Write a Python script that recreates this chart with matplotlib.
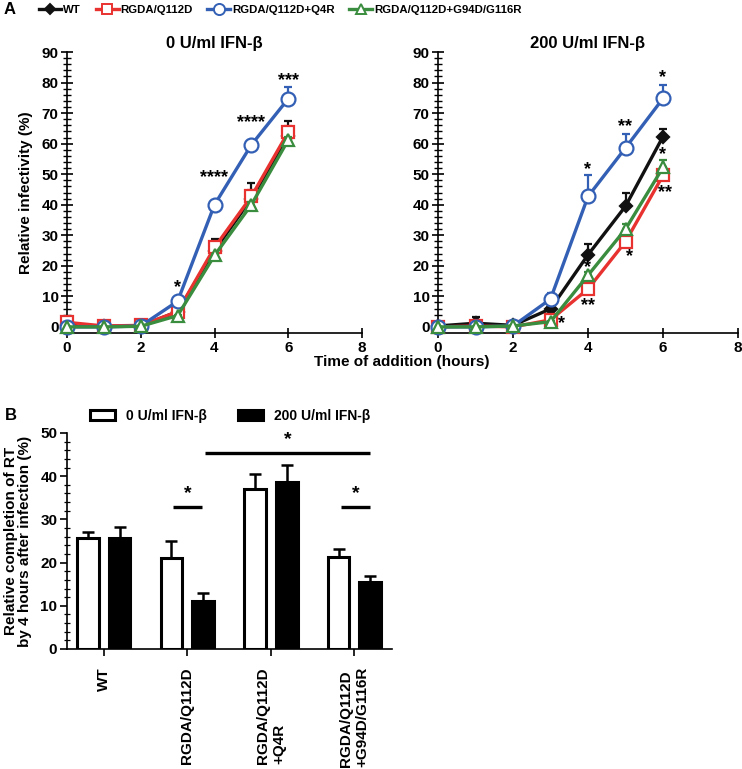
import matplotlib
matplotlib.use("Agg")
import matplotlib.pyplot as plt
import numpy as np
from matplotlib.lines import Line2D
from matplotlib.patches import Patch
from matplotlib.ticker import MultipleLocator

plt.rcParams['font.family'] = ['Liberation Sans', 'DejaVu Sans']
plt.rcParams['font.weight'] = 'bold'

# ---------------- Data: panel A ----------------
hours = [0, 1, 2, 3, 4, 5, 6]
series_names = ["WT", "RGDA/Q112D", "RGDA/Q112D+Q4R", "RGDA/Q112D+G94D/G116R"]

# 0 U/ml IFN-beta
wt_0 = [0.5, 0.2, 0.3, 5.0, 25.0, 42.0, 62.5]
wt_0_err = [2.5, 0, 0, 0.5, 3.7, 5.0, 5.0]
red_0 = [1.5, 0.3, 0.5, 5.0, 26.0, 42.7, 63.8]
red_0_err = [1.5, 0, 0, 0.5, 1.5, 2.0, 2.0]
blue_0 = [0.0, 0.0, 0.3, 8.4, 40.0, 59.6, 74.7]
blue_0_err = [0, 0, 0, 0.5, 0.5, 0.5, 4.0]
green_0 = [0.0, 0.0, 0.2, 3.7, 23.4, 40.0, 61.2]
green_0_err = [0, 0, 0, 0.3, 0.5, 1.0, 1.0]

# 200 U/ml IFN-beta
wt_200 = [0.3, 1.2, 0.5, 5.9, 23.6, 39.5, 62.3]
wt_200_err = [0.5, 2.0, 0.5, 0.5, 3.6, 4.5, 2.5]
red_200 = [0.0, 0.3, 0.0, 2.3, 12.4, 27.9, 49.6]
red_200_err = [0, 0.5, 0, 0.5, 1.0, 1.0, 1.0]
blue_200 = [0.0, 0.0, 0.3, 9.1, 42.7, 58.6, 74.8]
blue_200_err = [0, 0, 0, 2.0, 7.0, 4.7, 4.3]
green_200 = [0.0, 0.0, 0.3, 1.7, 16.9, 32.0, 52.2]
green_200_err = [0, 0, 0, 0.3, 1.0, 1.7, 2.6]

# significance labels (x, y, text)
stars_0 = [(3, 13.0, "*"), (4, 49.0, "****"), (5, 67.0, "****"), (6, 80.5, "***")]
stars_200 = [(4, 51.5, "*"), (5, 65.5, "**"), (6, 81.5, "*"), (6, 56.5, "*"),
             (6.05, 44.0, "**"), (5.12, 23.0, "*"), (4, 7.0, "**"), (3.3, 1.0, "*"),
             (4, 19.5, "*")]

# ---------------- Data: panel B ----------------
groups = ["WT", "RGDA/Q112D", "RGDA/Q112D\n+Q4R", "RGDA/Q112D\n+G94D/G116R"]
rt_0 = [25.7, 21.0, 37.0, 21.2]
rt_0_err = [1.3, 4.1, 3.4, 1.9]
rt_200 = [25.7, 11.2, 38.7, 15.6]
rt_200_err = [2.5, 1.7, 3.9, 1.2]
brackets = [(0.83, 1.17, 32.9, "*"), (2.84, 3.19, 32.9, "*"), (1.21, 3.19, 45.4, "*")]

colors = ['#111111', '#e8322f', '#3360b5', '#3a8c3e']
markers = ['D', 's', 'o', '^']
msizes = [6.5, 9, 10, 9]
mfcs = ['#111111', 'white', 'white', 'white']

W, H = 742, 769
fig = plt.figure(figsize=(W / 100, H / 100), dpi=100)

def ax_rect(x0, y0, x1, y1):
    return [x0 / W, 1 - y1 / H, (x1 - x0) / W, (y1 - y0) / H]

axL = fig.add_axes(ax_rect(67, 52, 362, 333))
axR = fig.add_axes(ax_rect(438, 52, 738, 333))

def draw_panel(ax, data, stars, title):
    for i, (y, e) in enumerate(data):
        z = 3 + i
        ax.errorbar(hours, y, yerr=[np.zeros(len(e)), e], fmt='none', ecolor=colors[i],
                    elinewidth=1.6, capsize=3, capthick=1.6, zorder=z)
        ax.plot(hours, y, color=colors[i], lw=2.4, marker=markers[i], ms=msizes[i],
                mfc=mfcs[i], mec=colors[i], mew=1.6, zorder=z + 0.5, clip_on=False)
    for (x, yv, t) in stars:
        ax.text(x, yv, t, ha='center', va='center', fontsize=13, fontweight='bold', zorder=10)
    ax.set_xlim(0, 8)
    ax.set_ylim(-2, 90)
    ax.set_xticks([0, 2, 4, 6, 8])
    ax.set_yticks(range(0, 91, 10))
    ax.yaxis.set_minor_locator(MultipleLocator(2))
    for s in ['top', 'right']:
        ax.spines[s].set_visible(False)
    for s in ['left', 'bottom']:
        ax.spines[s].set_linewidth(1.2)
    ax.spines['bottom'].set_bounds(0, 8)
    ax.tick_params(axis='y', which='major', direction='inout', length=8, width=1.2, labelsize=11, pad=2)
    ax.tick_params(axis='y', which='minor', direction='inout', length=6, width=1.0)
    ax.tick_params(axis='x', which='major', direction='inout', length=7, width=1.2, labelsize=11, pad=2)
    for lab in ax.get_xticklabels() + ax.get_yticklabels():
        lab.set_fontweight('bold')
    ax.set_title(title, fontsize=12, fontweight='bold', pad=3)

draw_panel(axL, [(wt_0, wt_0_err), (red_0, red_0_err), (blue_0, blue_0_err), (green_0, green_0_err)],
           stars_0, "0 U/ml IFN-β")
draw_panel(axR, [(wt_200, wt_200_err), (red_200, red_200_err), (blue_200, blue_200_err), (green_200, green_200_err)],
           stars_200, "200 U/ml IFN-β")
axL.set_ylabel("Relative infectivity (%)", fontsize=11, fontweight='bold', labelpad=6)
fig.text(402 / W, 1 - 362 / H, "Time of addition (hours)", ha='center', va='center',
         fontsize=11, fontweight='bold')

leg_handles = [Line2D([], [], color=colors[i], lw=2.4, marker=markers[i], ms=msizes[i] * 0.8,
                      mfc=mfcs[i], mec=colors[i], mew=1.4) for i in range(4)]
fig.legend(leg_handles, series_names, loc='center', bbox_to_anchor=(280 / W, 1 - 10 / H),
           ncol=4, frameon=False, handlelength=2.0, handletextpad=0.15, columnspacing=1.3,
           prop={'weight': 'bold', 'size': 8.2})
fig.text(4 / W, 1 - 10 / H, "A", fontsize=12, fontweight='bold', va='center', ha='left')

# ---------------- Panel B ----------------
axB = fig.add_axes(ax_rect(67, 433, 392, 649))
xg = np.arange(len(groups))
off, bw = 0.19, 0.26
axB.bar(xg - off, rt_0, width=bw, color='white', edgecolor='black', linewidth=2.2, zorder=3)
axB.bar(xg + off, rt_200, width=bw, color='black', edgecolor='black', linewidth=2.2, zorder=3)
axB.errorbar(xg - off, rt_0, yerr=[np.zeros(4), rt_0_err], fmt='none', ecolor='black',
             elinewidth=1.8, capsize=4, capthick=1.8, zorder=2)
axB.errorbar(xg + off, rt_200, yerr=[np.zeros(4), rt_200_err], fmt='none', ecolor='black',
             elinewidth=1.8, capsize=4, capthick=1.8, zorder=2)
for (x0, x1, yv, t) in brackets:
    axB.plot([x0, x1], [yv, yv], color='black', lw=2.4, clip_on=False, solid_capstyle='butt')
    axB.text((x0 + x1) / 2, yv + 1.2, t, ha='center', va='bottom', fontsize=14, fontweight='bold')
axB.set_xlim(-0.44, 3.45)
axB.set_ylim(0, 50)
axB.set_xticks(xg)
axB.set_xticklabels(groups, rotation=90, fontsize=11, fontweight='bold', va='top', ha='center',
                    multialignment='left')
axB.set_yticks(range(0, 51, 10))
axB.yaxis.set_minor_locator(MultipleLocator(2))
for s in ['top', 'right']:
    axB.spines[s].set_visible(False)
for s in ['left', 'bottom']:
    axB.spines[s].set_linewidth(1.2)
axB.tick_params(axis='y', which='major', direction='out', length=5, width=1.2, labelsize=11, pad=2)
axB.tick_params(axis='y', which='minor', direction='inout', length=4, width=0.9)
axB.tick_params(axis='x', which='major', direction='out', length=5, width=1.2, pad=8)
for lab in axB.get_yticklabels():
    lab.set_fontweight('bold')
axB.set_ylabel("Relative completion of RT\nby 4 hours after infection (%)", fontsize=11,
               fontweight='bold', labelpad=6, linespacing=1.0)

fig.legend([Patch(facecolor='white', edgecolor='black', linewidth=2.2),
            Patch(facecolor='black', edgecolor='black', linewidth=2.2)],
           ["0 U/ml IFN-β", "200 U/ml IFN-β"], loc='center', bbox_to_anchor=(230 / W, 1 - 416 / H),
           ncol=2, frameon=False, handlelength=1.8, handleheight=0.7, handletextpad=0.8,
           columnspacing=2.2, prop={'weight': 'bold', 'size': 10})
fig.text(5 / W, 1 - 416 / H, "B", fontsize=12, fontweight='bold', va='center', ha='left')

fig.savefig("out.png", dpi=100)
